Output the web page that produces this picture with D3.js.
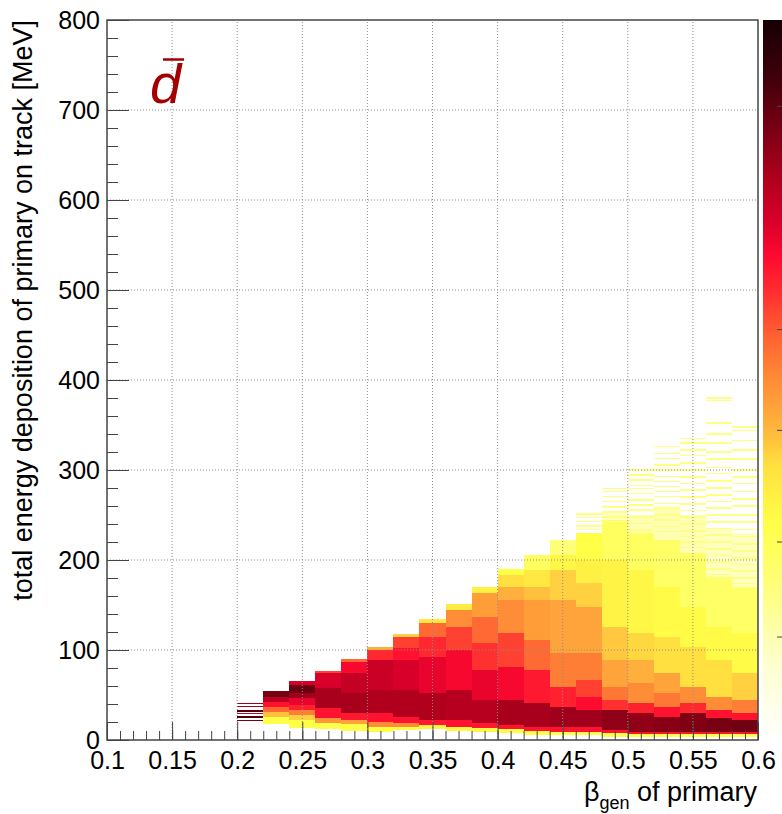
<!DOCTYPE html>
<html>
<head>
<meta charset="utf-8">
<script src="https://cdn.jsdelivr.net/npm/d3@7"></script>
<style>
  body { margin: 0; background: #fff; }
  text { font-family: "Liberation Sans", Arial, Helvetica, sans-serif; }
</style>
</head>
<body>
<div id="chart"></div>
<script>
// axis ticks
var xTicks = [0.1, 0.15, 0.2, 0.25, 0.3, 0.35, 0.4, 0.45, 0.5, 0.55, 0.6];
var yTicks = [0, 100, 200, 300, 400, 500, 600, 700, 800];

// beta bins (low edges), width 0.02
var binLow = [0.20, 0.22, 0.24, 0.26, 0.28, 0.30, 0.32, 0.34, 0.36, 0.38,
              0.40, 0.42, 0.44, 0.46, 0.48, 0.50, 0.52, 0.54, 0.56, 0.58];
var binWidth = 0.02;

// per column: [Edep low MeV, Edep high MeV, normalised content]
var b020 = [[40,41.2,.8],[36.5,37.7,.8],[31,33.5,.9],[28.5,29.7,.75],[24.5,27,.9],[21,22.5,.85]];
var b022 = [[48,54.5,.85],[42,48,.76],[37,42,.66],[31,37,.55],[26,31,.42],[18,26,.3]];
var b024 = [[61,65.5,.72],[52,61,.87],[47,52,.8],[39,47,.7],[33,39,.64],[28,33,.52],[22,28,.4],[13,22,.3]];
var b026 = [[74.5,76.7,.6],[58,74.5,.72],[36,58,.79],[24.5,36,.66],[19,24.5,.48],[12,19,.3]];
var b028 = [[86.7,90,.55],[74.5,86.7,.68],[52,74.5,.75],[30,52,.79],[22,30,.65],[18,22,.46],[10,18,.3]];
var b030 = [[100,103,.44],[89,100,.63],[55.5,89,.74],[30,55.5,.78],[20,30,.66],[14.5,20,.5],[9,14.5,.3]];
var b032 = [[114.5,118,.4],[102,114.5,.6],[89,102,.66],[55.5,89,.72],[25.5,55.5,.78],[19,25.5,.66],[14.5,19,.5],[11,14.5,.3]];
var b034 = [[130,134.5,.36],[114.5,130,.55],[92,114.5,.63],[52,92,.7],[22,52,.78],[16.5,22,.65],[12,16.5,.33]];
var b036 = [[144.5,151,.35],[125.5,144.5,.5],[100,125.5,.6],[55.5,100,.68],[22,55.5,.77],[14.5,22,.66],[10,14.5,.32]];
var b038 = [[163,170,.34],[136.5,163,.47],[108,136.5,.55],[78,108,.62],[44.5,78,.7],[19,44.5,.77],[13.5,19,.65],[9,13.5,.32]];
var b040 = [[183,190,.3],[170,183,.38],[155.5,170,.44],[119,155.5,.5],[81,119,.6],[44.5,81,.68],[16.5,44.5,.79],[12,16.5,.66],[8,12,.3]];
var b042 = [[189,205.5,.26],[170,189,.36],[155.5,170,.42],[111,155.5,.47],[78,111,.55],[41,78,.65],[14.5,41,.79],[10,14.5,.66],[5.5,10,.3]];
var b044 = [[205.5,222,.22],[189,205.5,.32],[155.5,189,.4],[96.5,155.5,.46],[59,96.5,.52],[36.5,59,.64],[14.5,36.5,.8],[9,14.5,.66],[5.5,9,.3]];
var b046 = [[200,230,.3],[175,200,.34],[148,175,.4],[96.5,148,.46],[66.5,96.5,.52],[48,66.5,.6],[33,48,.67],[14.5,33,.8],[9,14.5,.66],[5.5,9,.3]];
var b048 = [[244,255,.12],[200,244,.26],[125.5,200,.33],[89,125.5,.41],[59,89,.46],[44.5,59,.53],[33,44.5,.62],[11,33,.82],[8,11,.66],[3.5,8,.3]];
var b050 = [[230,250,.14],[189,230,.26],[119,189,.32],[89,119,.39],[63.5,89,.44],[41,63.5,.5],[30,41,.64],[9,30,.82],[7,9,.66],[3.5,7,.3]];
var b052 = [[222,260,.14],[170,222,.25],[114.5,170,.31],[74.5,114.5,.38],[52,74.5,.46],[36.5,52,.53],[25.5,36.5,.66],[9,25.5,.83],[7,9,.66],[3.5,7,.3]];
var b054 = [[208,250,.14],[148,208,.25],[103,148,.31],[59,103,.38],[41,59,.5],[30,41,.63],[9,30,.84],[7,9,.66],[3.5,7,.3]];
var b056 = [[181,235,.12],[125.5,181,.25],[89,125.5,.31],[48,89,.38],[33,48,.5],[24.5,33,.66],[9,24.5,.85],[7,9,.66],[3.5,7,.3]];
var b058 = [[170,230,.12],[119,170,.25],[74.5,119,.31],[44.5,74.5,.4],[30,44.5,.52],[22,30,.66],[9,22,.86],[7,9,.66],[3.5,7,.3]];

// sparse single-entry rows at the top of the wide columns (MeV)
var s046 = [251, 247, 242.5, 238, 234];
var s048 = [279.5, 276, 270.5, 265, 259, 253.5, 248, 242.5];
var s050 = [300, 294.5, 289, 283, 279.5, 274, 266.5, 261, 255.5, 248, 240.5, 233.5];
var s052 = [326, 318.5, 313, 305.5, 300, 292.5, 287, 281.5, 276, 270.5, 263, 257.5, 250, 244.5, 237, 231.5];
var s054 = [335, 330, 322, 316, 308, 300, 292, 285, 278, 270, 262, 255, 248, 240, 232, 226, 220, 214];
var s056 = [380, 377, 352, 340, 330, 320, 312, 303, 296, 288, 280, 272, 265, 258, 250, 242, 235, 228, 220, 212, 205, 198, 190, 184];
var s058 = [348, 344, 333, 322, 312, 300, 292, 285, 276, 268, 260, 250, 242, 234, 226, 218, 210, 202, 195, 188, 180, 174];

var columns = [b020, b022, b024, b026, b028, b030, b032, b034, b036, b038,
               b040, b042, b044, b046, b048, b050, b052, b054, b056, b058];
var sparse = [[], [], [], [], [], [], [], [], [], [],
              [], [], [], s046, s048, s050, s052, s054, s056, s058];

// colour bar tick positions (fraction of bar)
var zTicks = [0.88, 0.57, 0.43, 0.275, 0.143];

var width = 782, height = 814;
var x = d3.scaleLinear().domain([0.1, 0.6]).range([107, 758]);
var y = d3.scaleLinear().domain([0, 800]).range([740, 20]);
var zy = d3.scaleLinear().domain([0, 1]).range([740, 20]);

var color = d3.scaleLinear()
  .domain([0, .1, .2, .3, .38, .44, .5, .56, .62, .67, .72, .78, .84, .92, 1])
  .range(["#ffffff","#ffffd2","#ffff84","#ffff48","#ffe040","#ffb03c","#ff8c36",
          "#ff6232","#ff3030","#ff0a30","#d8002a","#b0001e","#800014","#40000a","#150003"])
  .clamp(true);

var svg = d3.select("#chart").append("svg")
  .attr("width", width)
  .attr("height", height);

// histogram cells
var cells = [];
columns.forEach(function(col, i) {
  col.forEach(function(b) {
    cells.push({x0: binLow[i], lo: b[0], hi: b[1], z: b[2]});
  });
  sparse[i].forEach(function(e) {
    cells.push({x0: binLow[i], lo: e - 0.8, hi: e + 0.8, z: 0.2});
  });
});

svg.append("g")
  .attr("shape-rendering", "crispEdges")
  .selectAll("rect")
  .data(cells)
  .enter().append("rect")
    .attr("x", function(d) { return x(d.x0); })
    .attr("width", function(d) { return x(d.x0 + binWidth) - x(d.x0); })
    .attr("y", function(d) { return y(d.hi); })
    .attr("height", function(d) { return y(d.lo) - y(d.hi); })
    .attr("fill", function(d) { return color(d.z); });

// grid
var grid = svg.append("g")
  .attr("stroke", "#8c8c8c")
  .attr("stroke-width", 1)
  .attr("stroke-dasharray", "1,2");
grid.selectAll(".gx")
  .data(xTicks.slice(1, -1))
  .enter().append("line")
    .attr("x1", d => x(d)).attr("x2", d => x(d))
    .attr("y1", y(0)).attr("y2", y(800));
grid.selectAll(".gy")
  .data(yTicks.slice(1, -1))
  .enter().append("line")
    .attr("y1", d => y(d)).attr("y2", d => y(d))
    .attr("x1", x(0.1)).attr("x2", x(0.6));

function styleAxis(g) {
  g.select(".domain").remove();
  g.selectAll(".tick line").attr("stroke", "#444");
  g.selectAll("text")
    .attr("fill", "#000")
    .attr("font-size", 25)
    .attr("font-family", "'Liberation Sans', Arial, Helvetica, sans-serif");
}

// minor ticks
svg.append("g").attr("transform", "translate(0," + y(0) + ")")
  .call(d3.axisBottom(x).ticks(50).tickSize(-9).tickFormat(""))
  .call(styleAxis);
svg.append("g").attr("transform", "translate(" + x(0.1) + ",0)")
  .call(d3.axisLeft(y).ticks(40).tickSize(-11).tickFormat(""))
  .call(styleAxis);

// major ticks + labels
svg.append("g").attr("transform", "translate(0," + y(0) + ")")
  .call(d3.axisBottom(x).tickValues(xTicks).tickSize(-18).tickPadding(11)
    .tickFormat(function(d) { return String(d); }))
  .call(styleAxis);
svg.append("g").attr("transform", "translate(" + x(0.1) + ",0)")
  .call(d3.axisLeft(y).tickValues(yTicks).tickSize(-22).tickPadding(7)
    .tickFormat(function(d) { return String(d); }))
  .call(styleAxis);

// frame
svg.append("rect")
  .attr("x", x(0.1)).attr("y", y(800))
  .attr("width", x(0.6) - x(0.1)).attr("height", y(0) - y(800))
  .attr("fill", "none")
  .attr("stroke", "#444")
  .attr("stroke-width", 1.5);

// colour bar
var grad = svg.append("defs").append("linearGradient")
  .attr("id", "zgrad")
  .attr("x1", 0).attr("y1", 1).attr("x2", 0).attr("y2", 0);
grad.selectAll("stop")
  .data(color.domain())
  .enter().append("stop")
    .attr("offset", d => d)
    .attr("stop-color", d => color(d));
svg.append("rect")
  .attr("x", 763).attr("y", zy(1))
  .attr("width", 30).attr("height", zy(0) - zy(1))
  .attr("fill", "url(#zgrad)");
svg.append("g").selectAll("line")
  .data(zTicks)
  .enter().append("line")
    .attr("x1", 777).attr("x2", 782)
    .attr("y1", d => zy(d)).attr("y2", d => zy(d))
    .attr("stroke", "#444");

// axis titles
var xt = svg.append("text")
  .attr("x", 757).attr("y", 801)
  .attr("text-anchor", "end")
  .attr("font-size", 27);
xt.append("tspan").text("β");
xt.append("tspan").attr("font-size", 18).attr("dy", 8).text("gen");
xt.append("tspan").attr("dy", -8).text(" of primary");

svg.append("text")
  .attr("transform", "translate(32,20) rotate(-90)")
  .attr("text-anchor", "end")
  .attr("font-size", 27)
  .text("total energy deposition of primary on track [MeV]");

// particle label
svg.append("text")
  .attr("x", 150).attr("y", 103)
  .attr("font-family", "'Liberation Serif', 'DejaVu Serif', serif")
  .attr("font-style", "italic")
  .attr("font-size", 56)
  .attr("fill", "#a30000")
  .text("d");
svg.append("line")
  .attr("x1", 163).attr("x2", 184)
  .attr("y1", 59.5).attr("y2", 59.5)
  .attr("stroke", "#a30000")
  .attr("stroke-width", 2.5);
</script>
</body>
</html>
